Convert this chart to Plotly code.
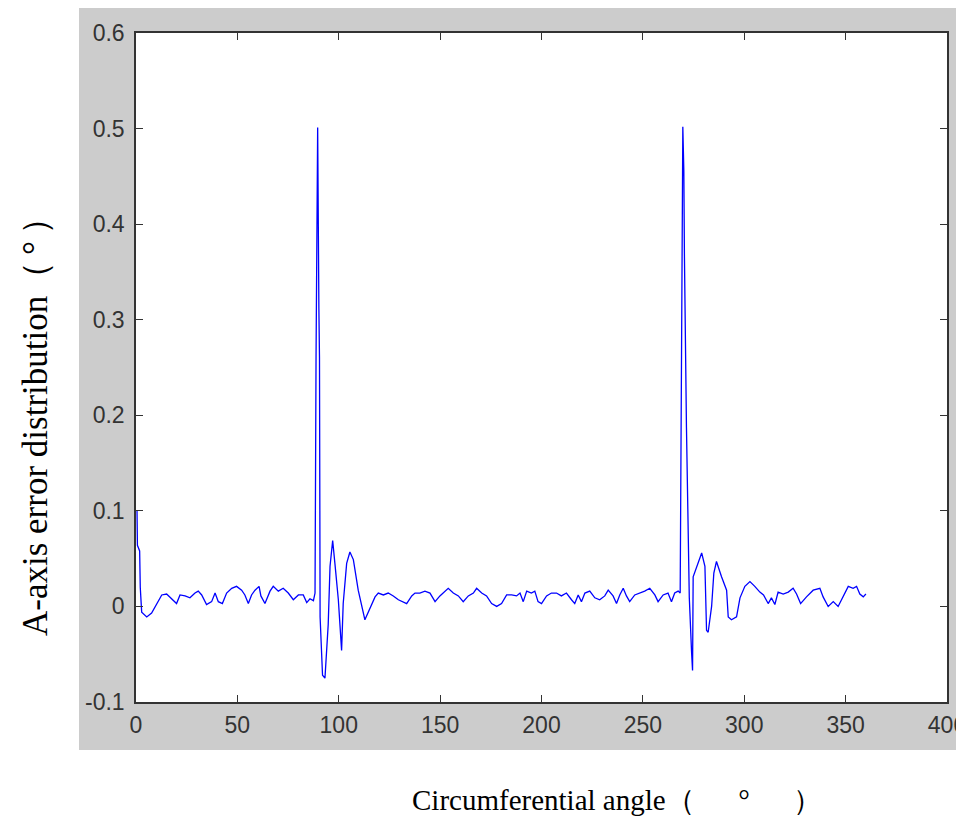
import plotly.graph_objects as go

# Circumferential angle (deg) and A-axis error (deg)
angle = [
    0.5, 0.7, 1.8, 2.1, 2.8, 5.3, 7.7, 10.2, 12.7, 15.1, 17.6, 20.0, 21.7, 24.2, 26.6,
    29.1, 30.7, 32.4, 34.8, 37.3, 39.0, 40.6, 42.6, 44.7, 47.2, 49.6, 52.1, 53.7, 55.4,
    57.0, 58.7, 60.7, 61.6, 63.6, 66.1, 67.7, 70.2, 72.6, 75.1, 77.6, 80.1, 82.5, 84.2,
    85.8, 87.5, 88.3, 88.8, 89.6, 90.2, 90.5, 90.8, 92.0, 93.2, 94.8, 95.7, 97.0, 98.1,
    99.8, 101.4, 102.2, 103.9, 105.5, 107.2, 109.6, 112.9, 115.4, 117.9, 119.5, 122.0,
    124.4, 126.9, 129.4, 131.8, 133.5, 136.0, 137.6, 140.0, 142.5, 145.0, 147.5, 149.9,
    152.4, 154.0, 156.5, 159.0, 161.4, 163.9, 166.4, 168.0, 170.5, 172.9, 175.4, 177.9,
    180.3, 182.8, 185.3, 187.7, 189.4, 191.0, 192.7, 195.0, 196.7, 198.3, 200.0, 202.5,
    204.9, 207.4, 209.8, 212.3, 214.8, 216.4, 218.1, 219.7, 221.4, 223.8, 226.3, 228.7,
    231.2, 232.9, 235.3, 237.0, 238.6, 240.3, 241.9, 243.5, 246.0, 248.5, 250.9, 253.4,
    255.9, 257.5, 260.0, 262.4, 264.1, 265.7, 267.4, 268.4, 269.0, 269.7, 270.2, 270.5,
    271.5, 272.9, 274.0, 274.5, 274.8, 276.5, 279.0, 280.6, 281.4, 282.2, 283.9, 285.0,
    286.3, 288.8, 291.3, 292.1, 293.7, 296.2, 297.9, 300.3, 302.8, 305.2, 307.7, 309.5,
    311.8, 313.4, 315.1, 316.7, 319.2, 321.7, 324.1, 325.8, 327.8, 330.7, 334.0, 337.3,
    338.9, 341.4, 343.9, 346.3, 348.8, 351.3, 353.7, 355.4, 357.0, 358.7, 360.0,
]
error = [
    0.100, 0.064, 0.058, 0.020, -0.006, -0.011, -0.007, 0.003, 0.012, 0.013, 0.008, 0.003,
    0.012, 0.011, 0.009, 0.014, 0.016, 0.012, 0.002, 0.005, 0.014, 0.005, 0.003, 0.014,
    0.019, 0.021, 0.017, 0.012, 0.003, 0.012, 0.017, 0.021, 0.011, 0.003, 0.016, 0.021,
    0.016, 0.019, 0.014, 0.007, 0.012, 0.012, 0.004, 0.008, 0.006, 0.014, 0.260, 0.501,
    0.312, 0.260, -0.011, -0.072, -0.075, -0.019, 0.042, 0.069, 0.045, 0.007, -0.046,
    0.003, 0.045, 0.057, 0.049, 0.017, -0.014, -0.002, 0.010, 0.014, 0.012, 0.014,
    0.011, 0.007, 0.005, 0.003, 0.011, 0.014, 0.014, 0.016, 0.014, 0.005, 0.011, 0.016,
    0.019, 0.014, 0.011, 0.005, 0.011, 0.014, 0.019, 0.014, 0.011, 0.003, 0.000, 0.003,
    0.012, 0.012, 0.011, 0.014, 0.005, 0.016, 0.014, 0.016, 0.005, 0.003, 0.011, 0.014,
    0.014, 0.011, 0.014, 0.007, 0.003, 0.012, 0.005, 0.014, 0.016, 0.009, 0.007, 0.011,
    0.017, 0.011, 0.003, 0.012, 0.019, 0.011, 0.005, 0.012, 0.014, 0.016, 0.019, 0.012,
    0.005, 0.012, 0.014, 0.005, 0.014, 0.016, 0.014, 0.258, 0.502, 0.456, 0.366, 0.187,
    0.009, -0.047, -0.067, 0.031, 0.042, 0.056, 0.042, -0.025, -0.027, 0.000, 0.035,
    0.047, 0.031, 0.017, -0.011, -0.014, -0.011, 0.009, 0.021, 0.026, 0.021, 0.015,
    0.012, 0.003, 0.009, 0.002, 0.015, 0.013, 0.015, 0.019, 0.013, 0.003, 0.010, 0.017,
    0.019, 0.010, 0.000, 0.005, 0.000, 0.010, 0.021, 0.019, 0.021, 0.013, 0.010, 0.013,
]

x_ticks = [0, 50, 100, 150, 200, 250, 300, 350, 400]
x_tick_text = ["0", "50", "100", "150", "200", "250", "300", "350", "400"]
y_ticks = [-0.1, 0.0, 0.1, 0.2, 0.3, 0.4, 0.5, 0.6]
y_tick_text = ["-0.1", "0", "0.1", "0.2", "0.3", "0.4", "0.5", "0.6"]

x_title = "Circumferential angle（\u2003\u2002°\u2003\u2002）"
y_title = "A-axis error distribution（\u2006°\u2006）"

# page body has an 8px margin; figure coordinates = reference pixels - 8
OFF = 8
W, H = 964 - OFF, 819 - OFF
L, T = 136 - OFF, 33 - OFF
R = W - (947 - OFF)
B = H - (702 - OFF)
pw, ph = W - L - R, H - T - B

def px(x):
    return (x - OFF - L) / pw

def py(y):
    return (H - B - (y - OFF)) / ph

fig = go.Figure()
fig.add_trace(go.Scatter(
    x=angle, y=error, mode="lines",
    line=dict(color="#0000ff", width=1.3),
    showlegend=False, hoverinfo="skip",
))

axis_common = dict(
    showline=True, mirror="ticks", linecolor="#333333", linewidth=1.5,
    ticks="inside", ticklen=7, tickwidth=1.3, tickcolor="#333333",
    showgrid=False, zeroline=False, ticklabeloverflow="allow", automargin=False,
    tickfont=dict(family="Liberation Sans, Arial, sans-serif", size=23, color="#333333"),
)

fig.update_xaxes(range=[0, 400], tickvals=x_ticks, ticktext=x_tick_text,
                 ticklabelstandoff=2, **axis_common)
fig.update_yaxes(range=[-0.1, 0.6], tickvals=y_ticks, ticktext=y_tick_text,
                 ticklabelstandoff=5, **axis_common)

fig.update_layout(
    width=W, height=H,
    margin=dict(l=L, r=R, t=T, b=B, pad=0, autoexpand=False),
    paper_bgcolor="white", plot_bgcolor="white",
    shapes=[
        dict(type="rect", xref="paper", yref="paper", layer="below",
             x0=px(79), x1=px(970), y0=py(750), y1=py(6),
             fillcolor="#cccccc", line=dict(width=0)),
        dict(type="rect", xref="x", yref="y", layer="below",
             x0=0, x1=400, y0=-0.1, y1=0.6,
             fillcolor="white", line=dict(width=0)),
    ],
    annotations=[
        dict(text=x_title, xref="paper", yref="paper", x=px(410), y=py(800),
             xanchor="left", yanchor="middle", showarrow=False,
             font=dict(family="Liberation Serif, Times New Roman, serif", size=29, color="black")),
        dict(text=y_title, xref="paper", yref="paper", x=px(35), y=py(638),
             xanchor="center", yanchor="bottom", showarrow=False, textangle=-90,
             font=dict(family="Liberation Serif, Times New Roman, serif", size=35, color="black")),
    ],
)

fig.write_html("out.html")
